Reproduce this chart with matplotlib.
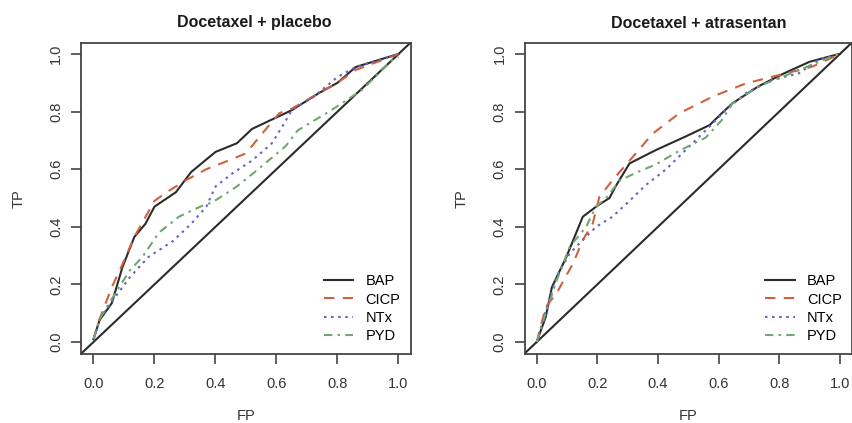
import matplotlib
matplotlib.use("Agg")
import matplotlib.pyplot as plt
from matplotlib.lines import Line2D

plt.rcParams['font.family'] = ['Liberation Sans', 'DejaVu Sans']

# ---- Data: Docetaxel + placebo ----
p_bap_fp = [0.0, 0.02, 0.06, 0.095, 0.134, 0.17, 0.20, 0.27, 0.32, 0.40, 0.47, 0.52, 0.60, 0.65, 0.74, 0.80, 0.86, 0.99, 1.0]
p_bap_tp = [0.01, 0.076, 0.135, 0.26, 0.365, 0.41, 0.47, 0.52, 0.59, 0.66, 0.69, 0.74, 0.78, 0.805, 0.865, 0.90, 0.955, 0.997, 1.0]
p_cicp_fp = [0.0, 0.02, 0.06, 0.095, 0.134, 0.20, 0.24, 0.30, 0.37, 0.43, 0.50, 0.55, 0.61, 0.65, 0.74, 0.80, 0.86, 1.0]
p_cicp_tp = [0.01, 0.08, 0.19, 0.27, 0.365, 0.49, 0.52, 0.56, 0.60, 0.625, 0.655, 0.72, 0.795, 0.81, 0.865, 0.90, 0.945, 1.0]
p_ntx_fp = [0.0, 0.02, 0.06, 0.12, 0.18, 0.26, 0.32, 0.37, 0.40, 0.455, 0.52, 0.585, 0.62, 0.65, 0.72, 0.80, 0.86, 1.0]
p_ntx_tp = [0.01, 0.08, 0.14, 0.226, 0.295, 0.35, 0.41, 0.47, 0.54, 0.585, 0.63, 0.69, 0.75, 0.805, 0.85, 0.92, 0.955, 1.0]
p_pyd_fp = [0.0, 0.02, 0.06, 0.12, 0.16, 0.215, 0.28, 0.35, 0.39, 0.47, 0.54, 0.63, 0.67, 0.78, 0.88, 0.98, 1.0]
p_pyd_tp = [0.01, 0.08, 0.15, 0.25, 0.295, 0.38, 0.435, 0.47, 0.485, 0.54, 0.60, 0.68, 0.735, 0.805, 0.875, 0.98, 0.99]

# ---- Data: Docetaxel + atrasentan ----
a_bap_fp = [0.0, 0.03, 0.05, 0.098, 0.152, 0.196, 0.24, 0.26, 0.306, 0.394, 0.49, 0.57, 0.61, 0.646, 0.73, 0.81, 0.90, 0.986, 1.0]
a_bap_tp = [0.0, 0.088, 0.19, 0.296, 0.435, 0.47, 0.50, 0.54, 0.62, 0.667, 0.713, 0.753, 0.794, 0.829, 0.887, 0.93, 0.973, 0.997, 1.0]
a_cicp_fp = [0.0, 0.03, 0.066, 0.12, 0.152, 0.185, 0.207, 0.26, 0.317, 0.383, 0.47, 0.58, 0.69, 0.777, 0.909, 1.0]
a_cicp_tp = [0.0, 0.122, 0.17, 0.273, 0.354, 0.412, 0.505, 0.574, 0.643, 0.724, 0.794, 0.852, 0.898, 0.921, 0.956, 1.0]
a_ntx_fp = [0.0, 0.03, 0.066, 0.109, 0.163, 0.196, 0.25, 0.306, 0.36, 0.427, 0.514, 0.57, 0.624, 0.69, 0.777, 0.865, 0.93, 1.0]
a_ntx_tp = [0.0, 0.11, 0.227, 0.308, 0.366, 0.40, 0.435, 0.49, 0.545, 0.60, 0.69, 0.748, 0.806, 0.864, 0.91, 0.933, 0.98, 1.0]
a_pyd_fp = [0.0, 0.03, 0.066, 0.109, 0.163, 0.196, 0.229, 0.273, 0.328, 0.394, 0.47, 0.558, 0.61, 0.646, 0.73, 0.865, 0.986, 1.0]
a_pyd_tp = [0.0, 0.10, 0.215, 0.331, 0.40, 0.47, 0.50, 0.56, 0.588, 0.617, 0.664, 0.71, 0.77, 0.829, 0.887, 0.944, 0.997, 1.0]

titles = ["Docetaxel + placebo", "Docetaxel + atrasentan"]
labels = ["BAP", "CICP", "NTx", "PYD"]
ticks = [0.0, 0.2, 0.4, 0.6, 0.8, 1.0]
tick_labels = ["0.0", "0.2", "0.4", "0.6", "0.8", "1.0"]

colors = ["#2b2b2b", "#d2603f", "#6464c4", "#72a672"]
styles = ["-", (0, (5, 4)), (0, (1.2, 2.2)), (0, (4, 2.5, 1.2, 2.5))]

panels = [
    [(p_bap_fp, p_bap_tp), (p_cicp_fp, p_cicp_tp), (p_ntx_fp, p_ntx_tp), (p_pyd_fp, p_pyd_tp)],
    [(a_bap_fp, a_bap_tp), (a_cicp_fp, a_cicp_tp), (a_ntx_fp, a_ntx_tp), (a_pyd_fp, a_pyd_tp)],
]

W, H = 853, 423
fig = plt.figure(figsize=(W / 100, H / 100), dpi=100)

boxes = [(81.3, 42.5, 410.7, 353.5), (524.6, 42.5, 852.0, 353.5)]
title_cx = [254, 699]
FS = 10.5

for k, (x0, y0, x1, y1) in enumerate(boxes):
    ax = fig.add_axes([x0 / W, 1 - y1 / H, (x1 - x0) / W, (y1 - y0) / H])
    ax.set_xlim(-0.04, 1.04)
    ax.set_ylim(-0.04, 1.04)
    ax.plot([-0.1, 1.1], [-0.1, 1.1], color="#2b2b2b", lw=1.5)
    for (fp, tp), c, ls in zip(panels[k], colors, styles):
        ax.plot(fp, tp, color=c, ls=ls, lw=1.5)
    for s in ax.spines.values():
        s.set_color("#444444")
        s.set_linewidth(1.3)
    ax.set_xticks(ticks)
    ax.set_xticklabels(tick_labels)
    ax.set_yticks(ticks)
    ax.set_yticklabels(tick_labels, rotation=90, va="center")
    ax.tick_params(axis="both", length=7, width=1.2, color="#444444", labelsize=FS,
                   labelcolor="#333333")
    ax.tick_params(axis="x", pad=10)
    ax.tick_params(axis="y", pad=6)
    # axis labels
    fig.text((x0 + x1) / 2 / W, 1 - 416 / H, "FP", ha="center", va="center",
             fontsize=FS, color="#333333")
    fig.text((x0 - 63) / W, 1 - 199 / H, "TP", ha="center", va="center",
             rotation=90, fontsize=FS, color="#333333")
    fig.text(title_cx[k] / W, 1 - 23 / H, titles[k], ha="center", va="center",
             fontsize=11.5, fontweight="bold", color="#1a1a1a")
    handles = [Line2D([0], [0], color=c, ls=ls, lw=1.5) for c, ls in zip(colors, styles)]
    ax.legend(handles, labels, loc="lower right", frameon=False, fontsize=FS,
              handlelength=2.0, handletextpad=0.85, labelspacing=0.3,
              borderaxespad=0.3, bbox_to_anchor=(1.0, 0.0))

fig.savefig("out.png", dpi=100)
